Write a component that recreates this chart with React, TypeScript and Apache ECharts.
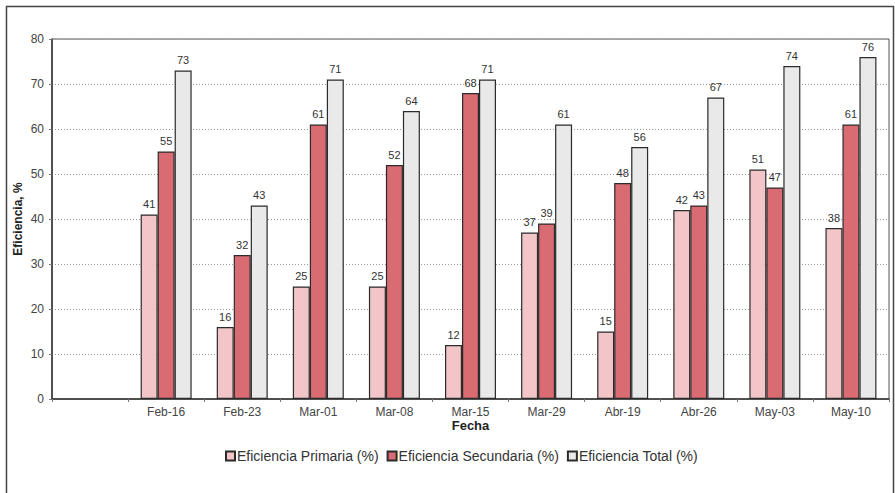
import React, { useEffect, useRef } from "react";
import * as echarts from "echarts";

// Sampling dates (the first slot is left empty, as in the original workbook)
const fechas = ["", "Feb-16", "Feb-23", "Mar-01", "Mar-08", "Mar-15", "Mar-29", "Abr-19", "Abr-26", "May-03", "May-10"];
const primaria = [null, 41, 16, 25, 25, 12, 37, 15, 42, 51, 38];
const secundaria = [null, 55, 32, 61, 52, 68, 39, 48, 43, 47, 61];
const total = [null, 73, 43, 71, 64, 71, 61, 56, 67, 74, 76];
const yTicks = { min: 0, max: 80, interval: 10 };

const FONT = "Liberation Sans, Arial, sans-serif";

export default function App() {
  const ref = useRef<HTMLDivElement>(null);

  useEffect(() => {
    if (!ref.current) return;
    const chart = echarts.init(ref.current, undefined, { renderer: "svg" });

    const label = {
      show: true,
      position: "top" as const,
      distance: 5,
      color: "#333333",
      fontSize: 11,
      fontFamily: FONT,
    };
    const border = { borderColor: "#2b2b2b", borderWidth: 1.2 };

    chart.setOption({
      animation: false,
      backgroundColor: "#fff",
      textStyle: { fontFamily: FONT },
      graphic: [
        {
          type: "rect",
          shape: { x: 6.5, y: 6.5, width: 887, height: 500 },
          style: { fill: "none", stroke: "#444", lineWidth: 1.5 },
          silent: true,
        },
      ],
      grid: {
        left: 52,
        top: 39,
        right: 6,
        bottom: 94,
        show: true,
        borderColor: "#555",
        borderWidth: 1,
      },
      legend: {
        bottom: 25,
        left: 220,
        itemWidth: 9,
        itemHeight: 9,
        itemGap: 8,
        textStyle: { fontSize: 14, color: "#333", fontFamily: FONT, padding: [0, 0, 0, -3] },
        icon: "rect",
        data: ["Eficiencia Primaria (%)", "Eficiencia Secundaria (%)", "Eficiencia Total (%)"],
      },
      xAxis: {
        type: "category",
        data: fechas,
        name: "Fecha",
        nameLocation: "middle",
        nameGap: 20,
        nameMoveOverlap: false,
        nameTextStyle: { fontWeight: "bold", fontSize: 13, color: "#222", fontFamily: FONT },
        axisLine: { lineStyle: { color: "#333", width: 1.5 } },
        axisTick: { show: true, length: 3, lineStyle: { color: "#777" } },
        axisLabel: { color: "#444", fontSize: 12, margin: 7, fontFamily: FONT },
      },
      yAxis: {
        type: "value",
        min: yTicks.min,
        max: yTicks.max,
        interval: yTicks.interval,
        name: "Eficiencia, %",
        nameLocation: "middle",
        nameGap: 28,
        nameMoveOverlap: false,
        nameTextStyle: { fontWeight: "bold", fontSize: 12, color: "#222", fontFamily: FONT },
        axisLine: { show: true, lineStyle: { color: "#333", width: 1.5 } },
        axisTick: { show: true, length: 3, lineStyle: { color: "#777" } },
        axisLabel: { color: "#444", fontSize: 12, margin: 8, fontFamily: FONT },
        splitLine: { show: true, lineStyle: { color: "#999", type: [1, 2], width: 1 } },
      },
      series: [
        {
          name: "Eficiencia Primaria (%)",
          type: "bar",
          data: primaria,
          barGap: "0%",
          barCategoryGap: "33%",
          itemStyle: { color: "#f2c6c8", ...border },
          label,
        },
        {
          name: "Eficiencia Secundaria (%)",
          type: "bar",
          data: secundaria,
          barGap: "0%",
          barCategoryGap: "33%",
          itemStyle: { color: "#d96b73", ...border },
          label,
        },
        {
          name: "Eficiencia Total (%)",
          type: "bar",
          data: total,
          barGap: "0%",
          barCategoryGap: "33%",
          itemStyle: { color: "#e9e9e9", ...border },
          label,
        },
      ],
    });

    return () => chart.dispose();
  }, []);

  return (
    <div
      ref={ref}
      style={{ position: "fixed", left: 0, top: 0, width: 895, height: 493, background: "#fff" }}
    />
  );
}
